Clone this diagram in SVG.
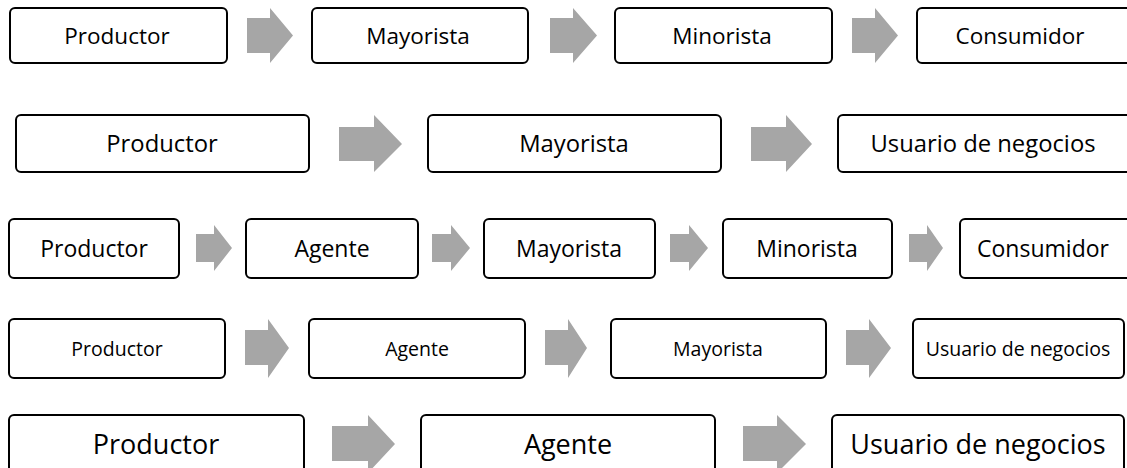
<svg xmlns="http://www.w3.org/2000/svg" width="1127" height="468" viewBox="0 0 1127 468">
<style>
.box{fill:#fff;stroke:#000;stroke-width:2}
.arr{fill:#a6a6a6}
text{font-family:"Open Sans","Noto Sans","DejaVu Sans",sans-serif;fill:#000;text-anchor:middle}
.r1{font-size:22.5px}.r2{font-size:23.8px}.r3{font-size:23px}.r4{font-size:19.5px}.r5{font-size:27px}
</style>
<rect width="1127" height="468" fill="#fff"/>
<g id="connectors">
<polygon class="arr" points="247,18 270,18 270,8 293,35.5 270,63 270,53 247,53"/>
<polygon class="arr" points="550,18 573,18 573,8 597,35.5 573,63 573,53 550,53"/>
<polygon class="arr" points="852,18 875,18 875,8 898,35.5 875,63 875,53 852,53"/>
<polygon class="arr" points="339,127 374,127 374,115 402,144 374,172 374,161 339,161"/>
<polygon class="arr" points="751,127 786,127 786,115 812,144 786,172 786,161 751,161"/>
<polygon class="arr" points="196,234 214,234 214,225 232,248 214,271 214,262 196,262"/>
<polygon class="arr" points="432,234 451,234 451,225 470,248 451,271 451,262 432,262"/>
<polygon class="arr" points="670,234 689,234 689,225 708,248 689,271 689,262 670,262"/>
<polygon class="arr" points="909,234 927,234 927,225 943,248 927,271 927,262 909,262"/>
<polygon class="arr" points="245,330 268,330 268,319 289,348 268,378 268,365 245,365"/>
<polygon class="arr" points="545,330 568,330 568,319 587,348 568,378 568,365 545,365"/>
<polygon class="arr" points="846,330 869,330 869,319 891,348 869,378 869,365 846,365"/>
<polygon class="arr" points="332,426 368,426 368,415 395,444 368,473 368,461 332,461"/>
<polygon class="arr" points="743,426 777,426 777,415 806,444 777,473 777,461 743,461"/>
</g>
<g id="r1-productor"><rect class="box" x="10" y="8" width="217" height="55" rx="5"/><text class="r1" x="117" y="43.5">Productor</text></g>
<g id="r1-mayorista"><rect class="box" x="312" y="8" width="216" height="55" rx="5"/><text class="r1" x="418" y="43.5">Mayorista</text></g>
<g id="r1-minorista"><rect class="box" x="615" y="8" width="217" height="55" rx="5"/><text class="r1" x="722" y="43.5">Minorista</text></g>
<g id="r1-consumidor"><rect class="box" x="917" y="8" width="215" height="55" rx="5"/><text class="r1" x="1020" y="43.5">Consumidor</text></g>
<g id="r2-productor"><rect class="box" x="16" y="115" width="293" height="57" rx="5"/><text class="r2" x="162" y="152">Productor</text></g>
<g id="r2-mayorista"><rect class="box" x="428" y="115" width="293" height="57" rx="5"/><text class="r2" x="574" y="152">Mayorista</text></g>
<g id="r2-usuario"><rect class="box" x="838" y="115" width="295" height="57" rx="5"/><text class="r2" x="983" y="152">Usuario de negocios</text></g>
<g id="r3-productor"><rect class="box" x="9" y="219" width="170" height="59" rx="5"/><text class="r3" x="94" y="256.5">Productor</text></g>
<g id="r3-agente"><rect class="box" x="246" y="219" width="172" height="59" rx="5"/><text class="r3" x="332" y="256.5">Agente</text></g>
<g id="r3-mayorista"><rect class="box" x="484" y="219" width="171" height="59" rx="5"/><text class="r3" x="569" y="256.5">Mayorista</text></g>
<g id="r3-minorista"><rect class="box" x="723" y="219" width="169" height="59" rx="5"/><text class="r3" x="807" y="256.5">Minorista</text></g>
<g id="r3-consumidor"><rect class="box" x="960" y="219" width="172" height="59" rx="5"/><text class="r3" x="1043" y="256.5">Consumidor</text></g>
<g id="r4-productor"><rect class="box" x="9" y="319" width="216" height="59" rx="5"/><text class="r4" x="117" y="355.5">Productor</text></g>
<g id="r4-agente"><rect class="box" x="309" y="319" width="216" height="59" rx="5"/><text class="r4" x="417" y="355.5">Agente</text></g>
<g id="r4-mayorista"><rect class="box" x="611" y="319" width="215" height="59" rx="5"/><text class="r4" x="718" y="355.5">Mayorista</text></g>
<g id="r4-usuario"><rect class="box" x="913" y="319" width="211" height="59" rx="5"/><text class="r4" x="1018" y="355.5">Usuario de negocios</text></g>
<g id="r5-productor"><rect class="box" x="9" y="415" width="295" height="60" rx="5"/><text class="r5" x="156" y="453.5">Productor</text></g>
<g id="r5-agente"><rect class="box" x="421" y="415" width="294" height="60" rx="5"/><text class="r5" x="568" y="453.5">Agente</text></g>
<g id="r5-usuario"><rect class="box" x="832" y="415" width="292" height="60" rx="5"/><text class="r5" x="978" y="453.5">Usuario de negocios</text></g>
</svg>
